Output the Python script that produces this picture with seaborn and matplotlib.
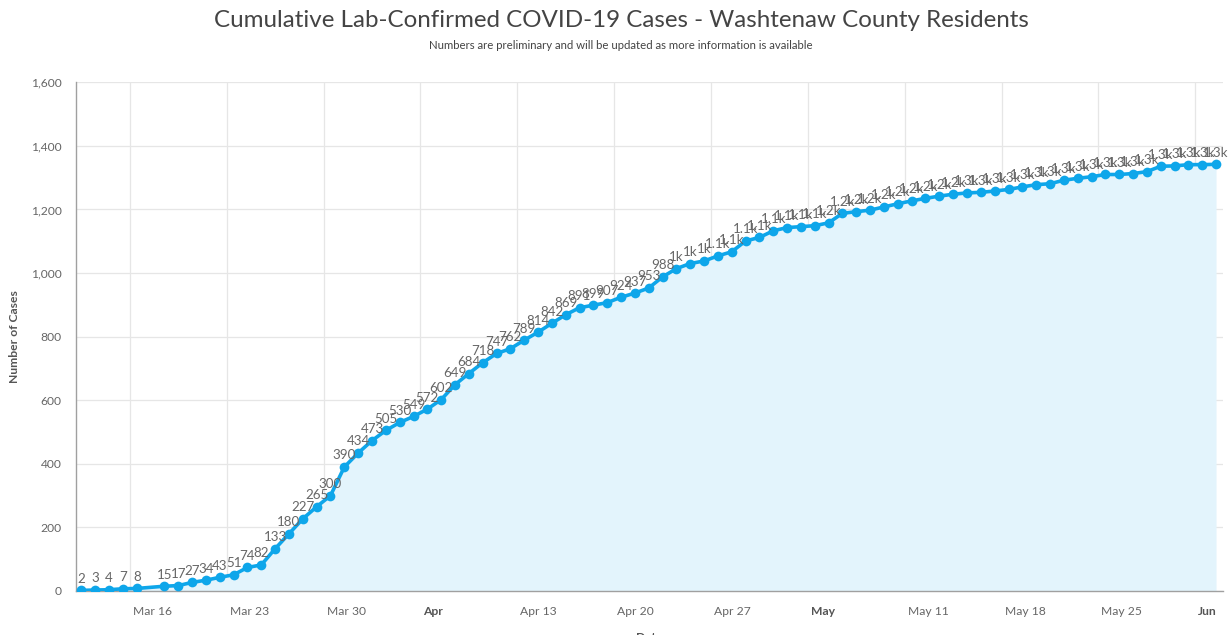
import numpy as np
import pandas as pd
import matplotlib.pyplot as plt
import matplotlib.dates as mdates
import matplotlib.transforms as mtransforms
import seaborn as sns

# daily cumulative counts (Mar 17 not reported)
dates = (list(pd.date_range('2020-03-12', '2020-03-16')) +
         list(pd.date_range('2020-03-18', '2020-06-02')))
cases = [2, 3, 4, 7, 8,
         15, 17, 27, 34, 43, 51, 74, 82, 133, 180, 227, 265, 300, 390,
         434, 473, 505, 530, 549, 572, 602, 649, 684, 718, 747, 762, 789, 814,
         842, 869, 891, 899, 907, 924, 937, 953, 988, 1014, 1030, 1038, 1054,
         1067, 1101, 1112,
         1133, 1143, 1146, 1149, 1158, 1188, 1193, 1198, 1208, 1218, 1227,
         1235, 1242, 1248, 1252, 1254, 1258, 1263, 1271, 1278, 1281, 1292,
         1298, 1303, 1310, 1310, 1313, 1319, 1336, 1337, 1341,
         1341, 1342]

tick_dates = pd.date_range('2020-03-16', '2020-06-01', freq='7D')
tick_labels = ['Mar 16', 'Mar 23', 'Mar 30', 'Apr', 'Apr 13', 'Apr 20', 'Apr 27',
               'May', 'May 11', 'May 18', 'May 25', 'Jun']
month_labels = ['Apr', 'May', 'Jun']

title = 'Cumulative Lab-Confirmed COVID-19 Cases - Washtenaw County Residents'
subtitle = 'Numbers are preliminary and will be updated as more information is available'

df = pd.DataFrame({'date': pd.to_datetime(dates) + pd.Timedelta(hours=12),
                   'cases': cases})

def fmt(v):
    if v < 1000:
        return str(v)
    s = '%.1f' % (v / 1000)
    if s.endswith('.0'):
        s = s[:-2]
    return s + 'k'

sns.set_style('white')
plt.rcParams['font.family'] = ['Lato', 'DejaVu Sans']

line_col = '#0ea6ea'
fig = plt.figure(figsize=(12.3, 6.35), dpi=100)
ax = fig.add_axes([0.0615, 0.0693, 0.9328, 0.8011])

ax.fill_between(df['date'], df['cases'], 0, color='#e3f4fc', zorder=1, linewidth=0)
sns.lineplot(data=df, x='date', y='cases', ax=ax, color=line_col, linewidth=2.6,
             marker='o', markersize=7, markeredgewidth=0, zorder=3)

for d, v in zip(df['date'], df['cases']):
    ax.annotate(fmt(v), (d, v), xytext=(0, 4), textcoords='offset points',
                ha='center', va='bottom', fontsize=9.6, color='#666666', zorder=4)

ax.set_xlim(pd.Timestamp('2020-03-12 02:00'), pd.Timestamp('2020-06-03'))
ax.set_ylim(0, 1600)
ax.set_yticks(np.arange(0, 1601, 200))
ax.set_yticklabels(['{:,}'.format(t) for t in range(0, 1601, 200)])
ax.set_xticks(tick_dates)
ax.set_xticklabels(tick_labels)

ax.grid(True, color='#e6e6e6', linewidth=0.9)
ax.set_axisbelow(True)
for s in ['top', 'right']:
    ax.spines[s].set_visible(False)
for s in ['left', 'bottom']:
    ax.spines[s].set_color('#a0a0a0')
    ax.spines[s].set_linewidth(1.0)

ax.tick_params(axis='x', length=5, width=0.9, color='#a0a0a0', labelsize=8.7,
               labelcolor='#666666', pad=6)
ax.tick_params(axis='y', length=5, width=0.9, color='#a0a0a0', labelsize=8.7,
               labelcolor='#666666', pad=5)

offset = mtransforms.ScaledTranslation(3 / 100, 0, fig.dpi_scale_trans)
for lab in ax.get_xticklabels():
    lab.set_horizontalalignment('left')
    lab.set_transform(lab.get_transform() + offset)
    if lab.get_text() in month_labels:
        lab.set_fontweight('bold')
        lab.set_color('#555555')

ax.set_xlabel('Date', fontsize=8.7, fontweight='bold', color='#555555')
ax.set_ylabel('Number of Cases', fontsize=8.7, fontweight='bold', color='#555555')
ax.xaxis.set_label_coords(0.5, -0.08)
ax.yaxis.set_label_coords(-0.0485, 0.5)

fig.text(0.505, 0.9685, title, ha='center', va='center', fontsize=17.4, color='#444444')
fig.text(0.505, 0.9276, subtitle, ha='center', va='center', fontsize=8.2, color='#444444')

fig.savefig('out.png', dpi=100)
